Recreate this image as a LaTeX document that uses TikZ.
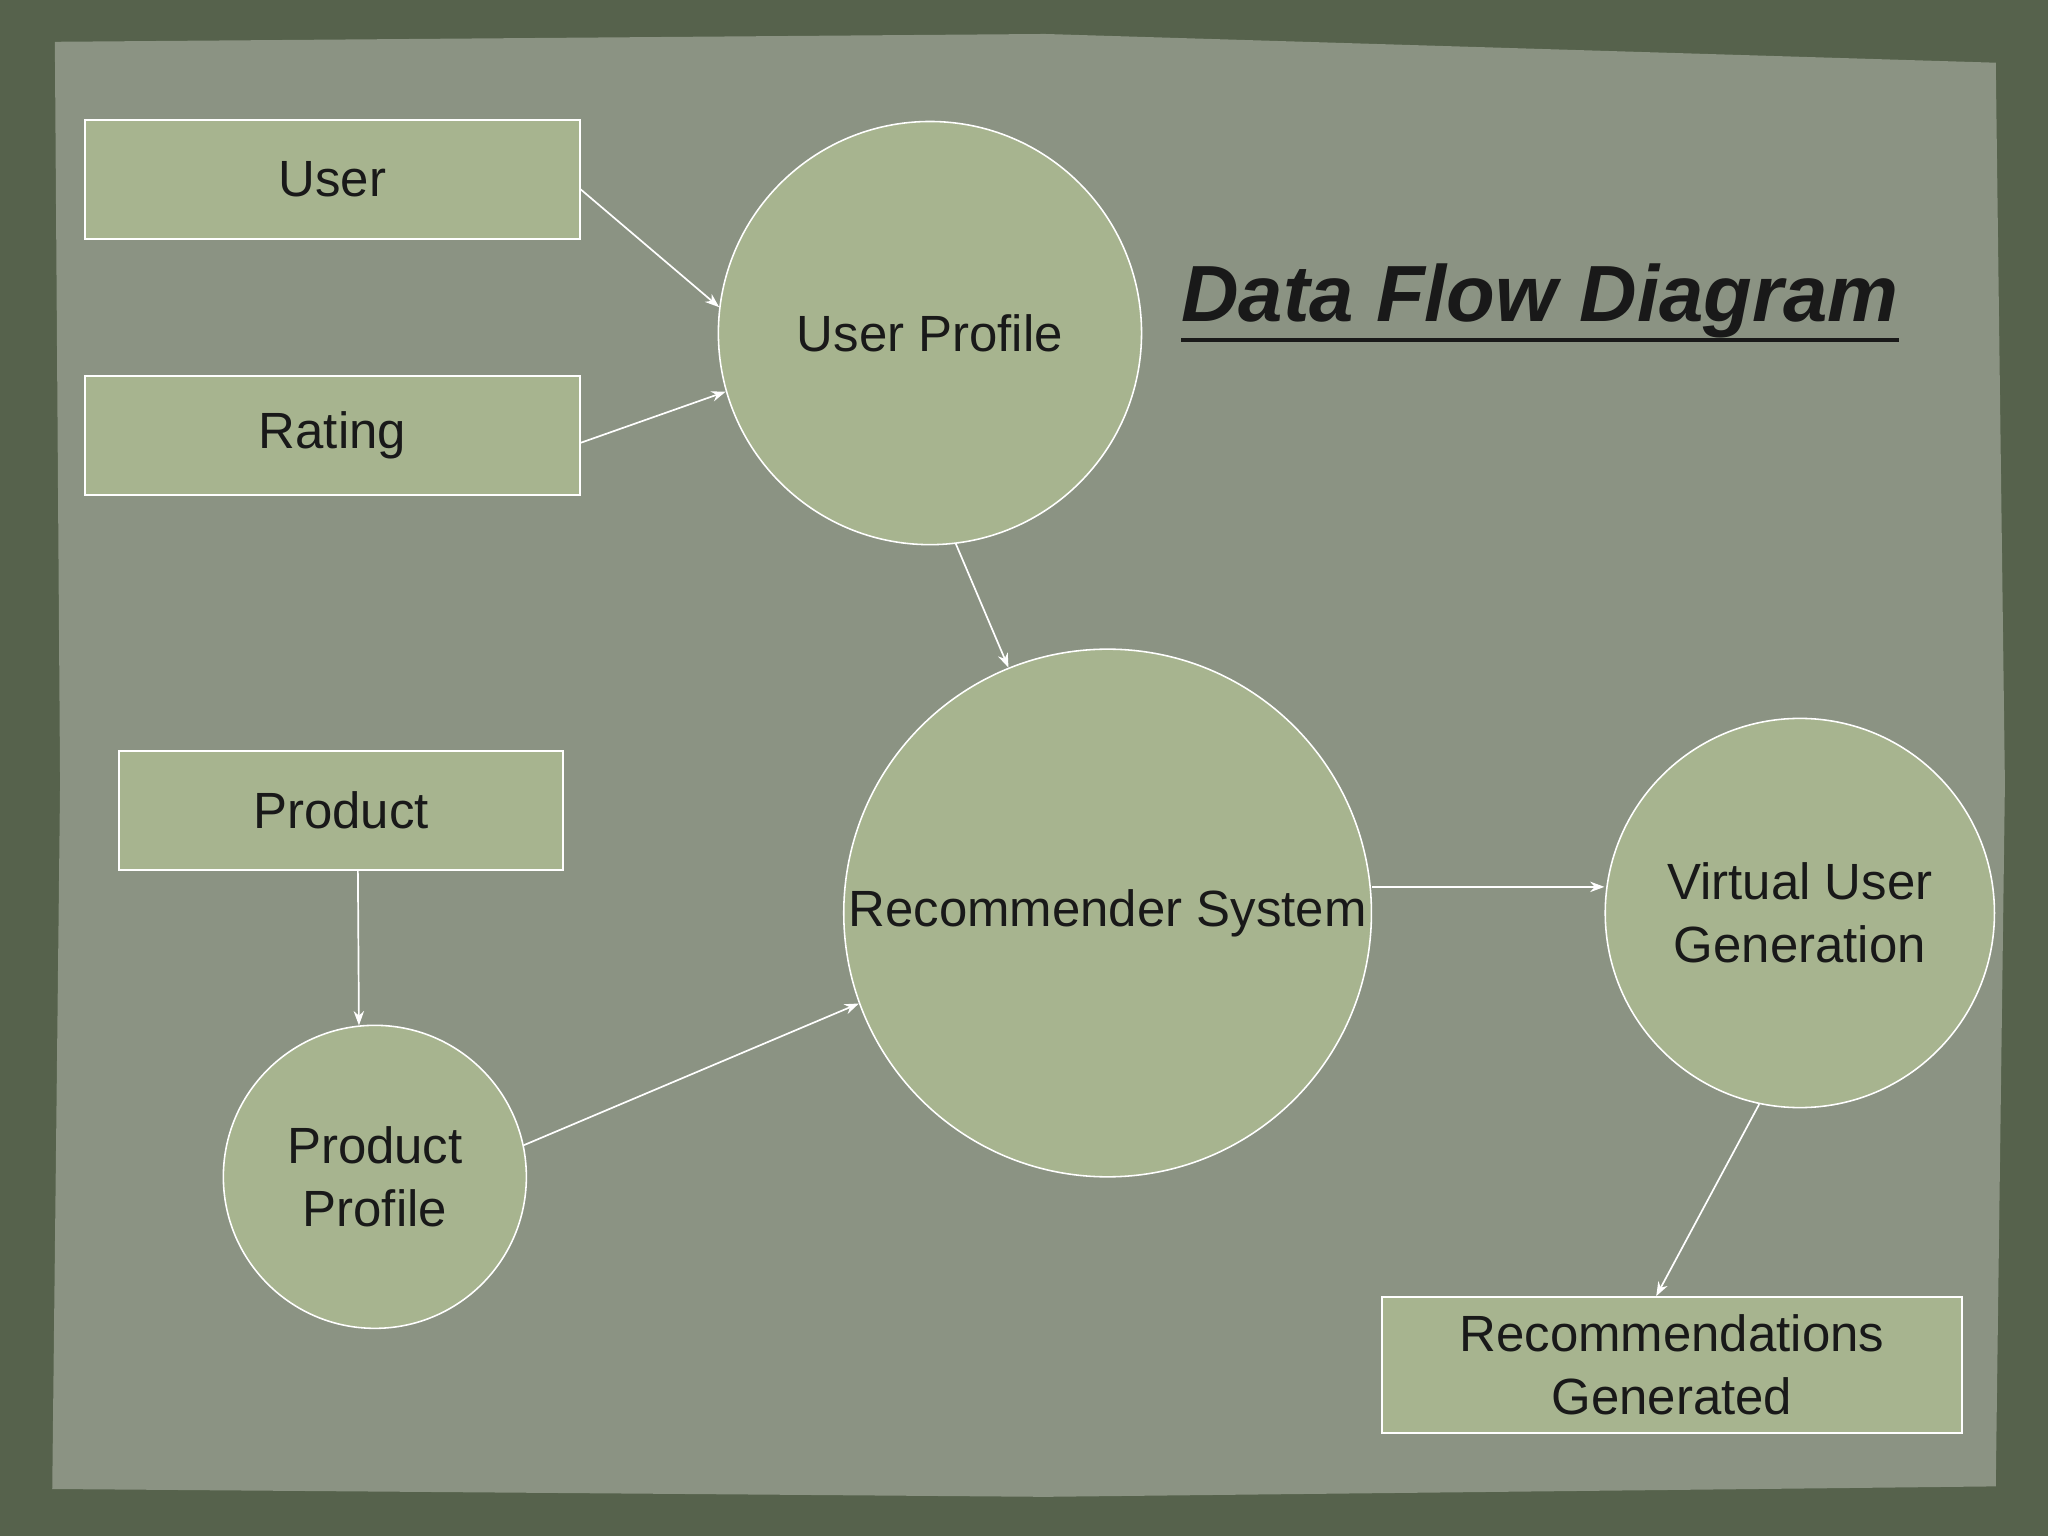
\documentclass[tikz,border=0pt]{standalone}
\usepackage{fontspec}
\setmainfont{Liberation Sans}
\usetikzlibrary{arrows.meta}
\definecolor{frame}{RGB}{86,98,76}
\definecolor{paper}{RGB}{139,147,131}
\definecolor{boxfill}{RGB}{167,180,143}
\tikzset{
  store/.style={draw=white,line width=1.2pt,fill=boxfill,text=black!90,font=\fontsize{39}{48}\selectfont,align=center,inner sep=0pt},
  proc/.style={circle,draw=white,line width=1.2pt,fill=boxfill,text=black!90,font=\fontsize{39}{48}\selectfont,align=center,inner sep=0pt},
  flow/.style={draw=white,line width=1.3pt,-{Stealth[length=11pt,width=8pt]}}
}
\begin{document}
\begin{tikzpicture}[x=1pt,y=1pt,yscale=-1]
\useasboundingbox (0,0) rectangle (1568,1176);

%background
\fill [frame] (0,0) rectangle (1568,1176);
\fill [paper] (42,32) -- (800,26) -- (1528,48) -- (1535,600) -- (1528,1138) -- (800,1146) -- (40,1140) -- (46,600) -- cycle;

%stores
\node [store,minimum width=379,minimum height=91] (user) at (254.5,137.5) {User};
\node [store,minimum width=379,minimum height=91] (rating) at (254.5,333.5) {Rating};
\node [store,minimum width=340,minimum height=91] (product) at (261,620.5) {Product};
\node [store,minimum width=444,minimum height=104] (recs) at (1280,1045) {Recommendations\\Generated};

%processes
\node [proc,minimum size=324] (uprof) at (712,255) {User Profile};
\node [proc,minimum size=404] (recsys) at (848,699) {Recommender System};
\node [proc,minimum size=298] (vuser) at (1378,699) {Virtual User\\Generation};
\node [proc,minimum size=232] (pprof) at (287,901) {Product\\Profile};

%title
\node [font=\fontsize{61}{68}\selectfont\bfseries\itshape,text=black!90,inner sep=0pt] (title) at (1179,230) {Data Flow Diagram};
\draw [black!90,line width=3pt] ([yshift=30]title.west) -- ([yshift=30]title.east);

%flows
\draw [flow] ([yshift=7.5]user.east) -- (uprof.173);
\draw [flow] ([yshift=5.5]rating.east) -- (uprof.196);
\draw [flow] (uprof.277) -- (recsys.112);
\draw [flow] ([xshift=13]product.south) -- (pprof.96);
\draw [flow] (pprof.12) -- (recsys.200);
\draw [flow] ([yshift=-20]recsys.east) -- ([yshift=-20]vuser.west);
\draw [flow] (vuser.258) -- ([xshift=-12]recs.north);
\end{tikzpicture}
\end{document}
